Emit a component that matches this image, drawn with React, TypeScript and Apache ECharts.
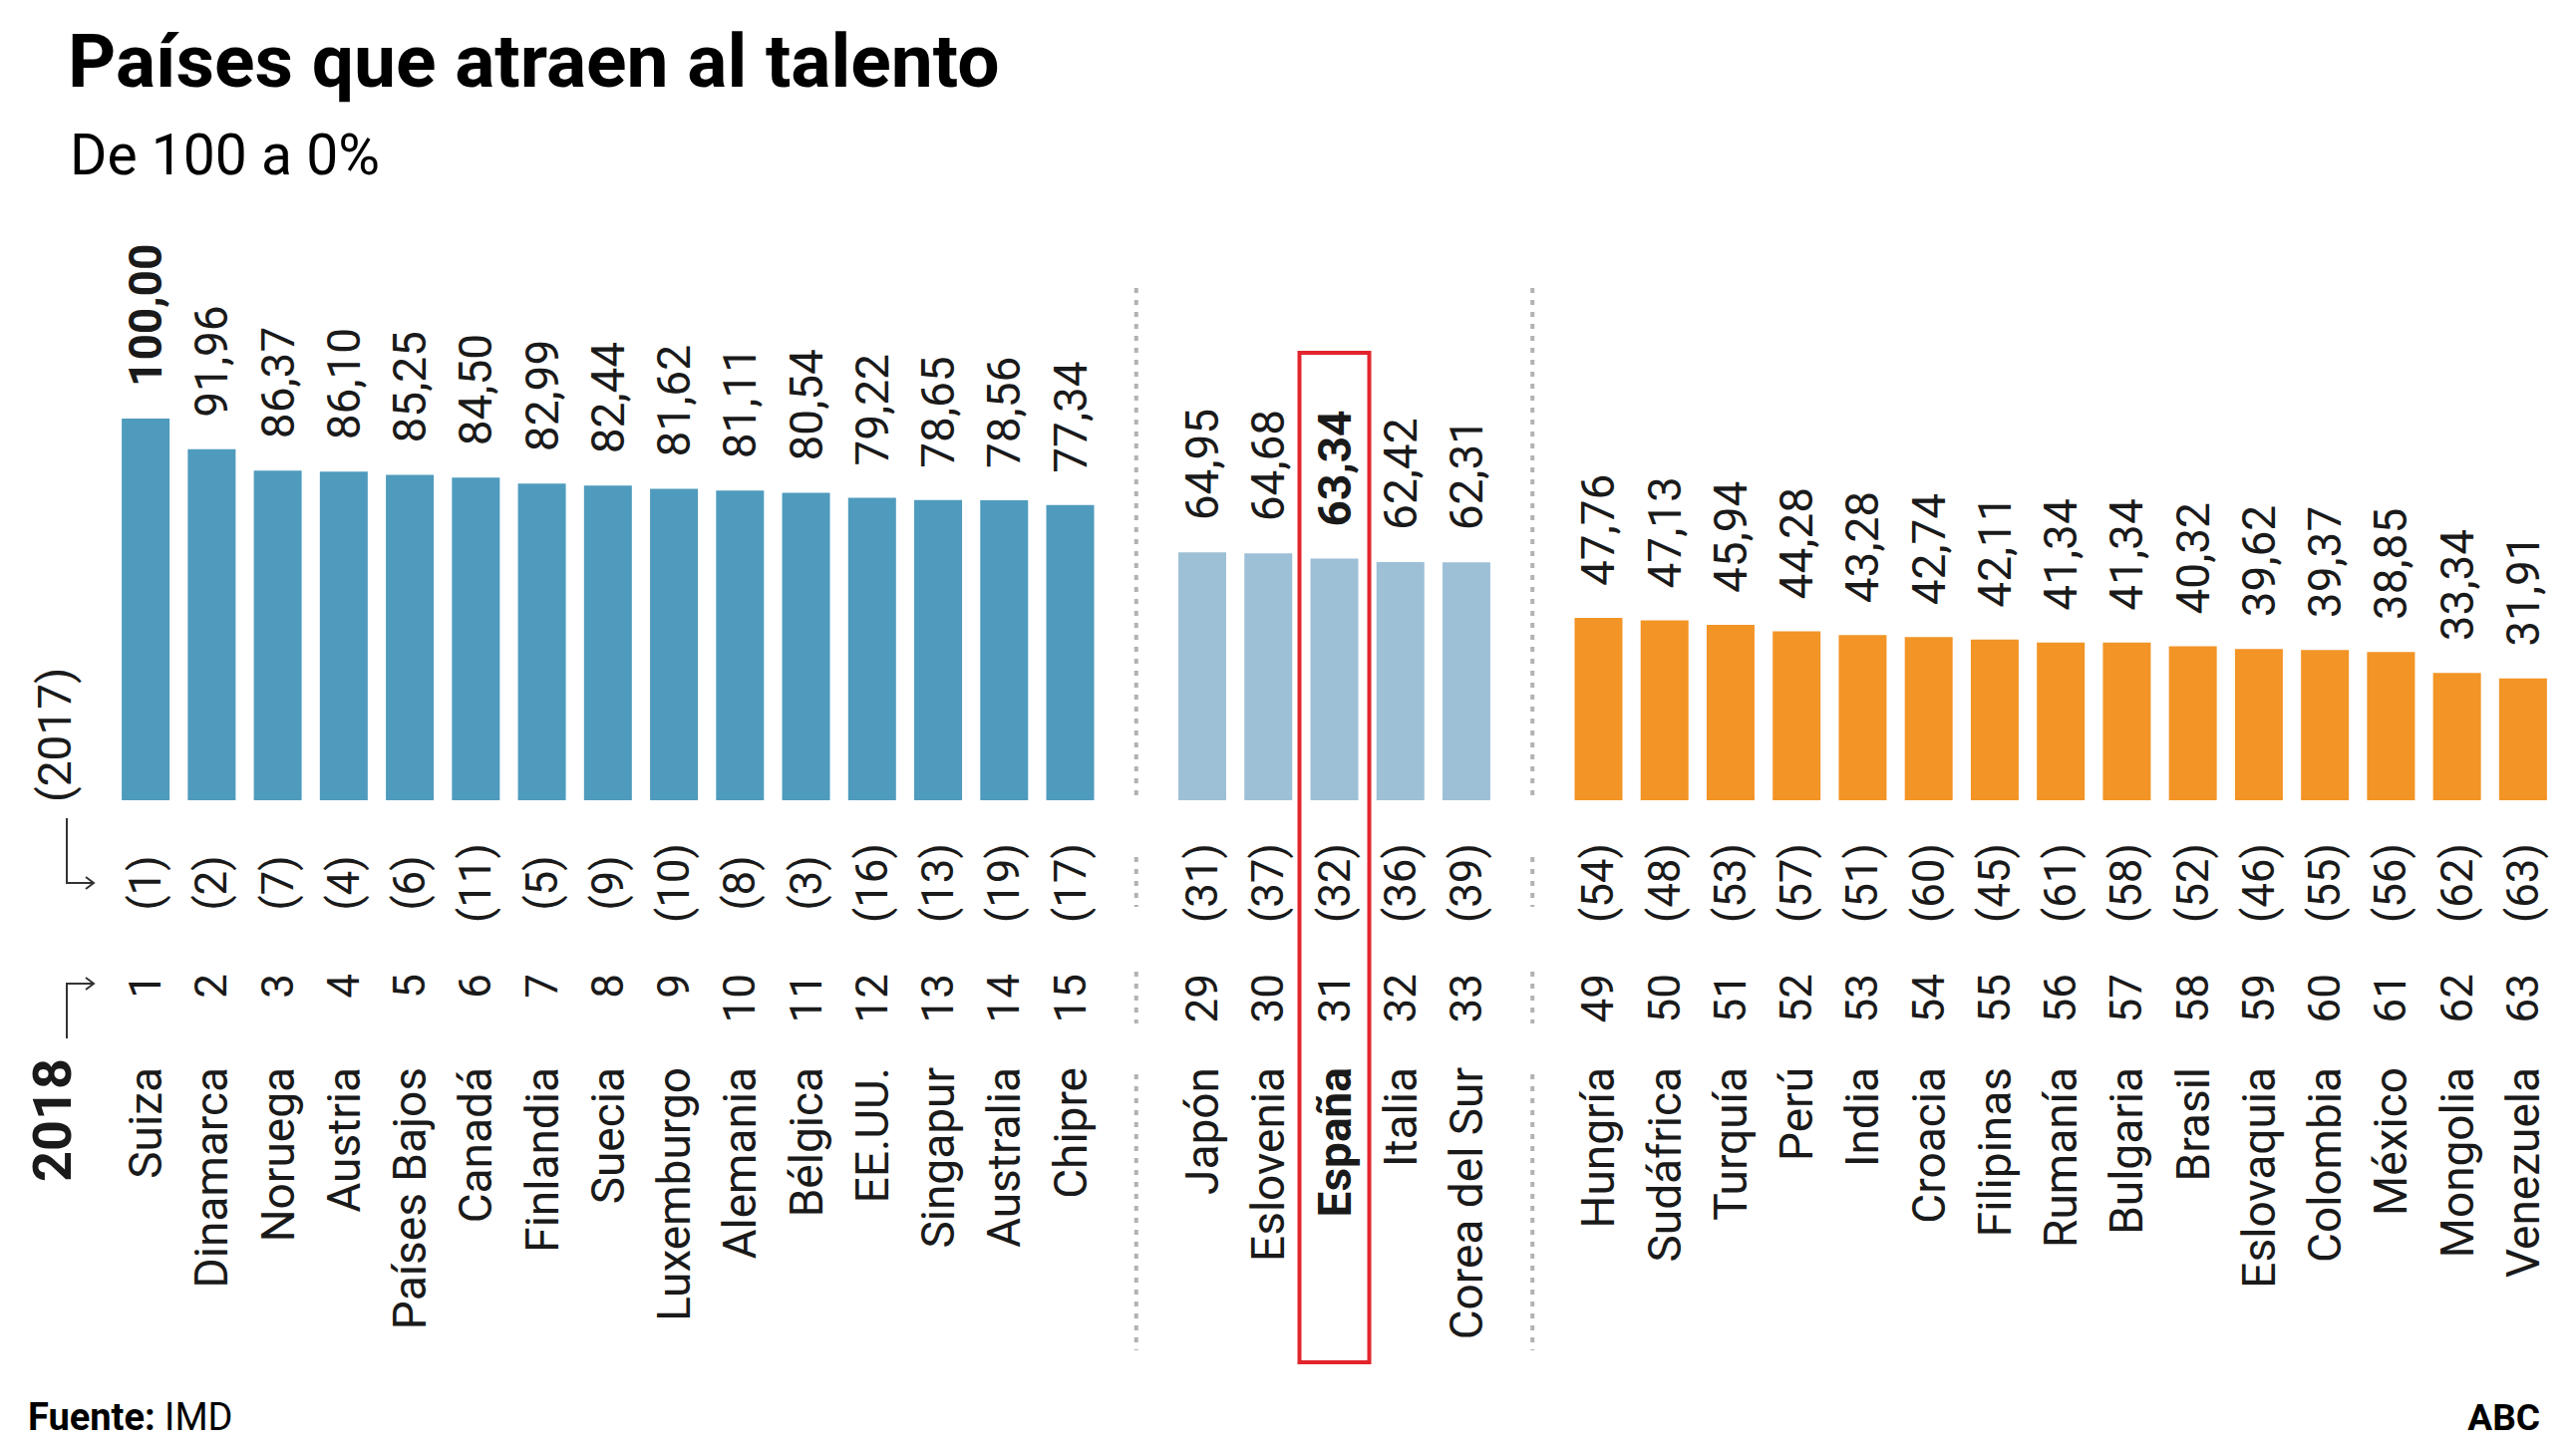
import React, { useEffect, useRef } from 'react';
import * as echarts from 'echarts';

// ---- Data ----
const groupA = ['Suiza', 'Dinamarca', 'Noruega', 'Austria', 'Países Bajos', 'Canadá', 'Finlandia', 'Suecia', 'Luxemburgo', 'Alemania', 'Bélgica', 'EE.UU.', 'Singapur', 'Australia', 'Chipre'];
const scoresA = [100.0, 91.96, 86.37, 86.1, 85.25, 84.5, 82.99, 82.44, 81.62, 81.11, 80.54, 79.22, 78.65, 78.56, 77.34];
const rank2017A = [1, 2, 7, 4, 6, 11, 5, 9, 10, 8, 3, 16, 13, 19, 17];
const rank2018A = [1, 2, 3, 4, 5, 6, 7, 8, 9, 10, 11, 12, 13, 14, 15];

const groupB = ['Japón', 'Eslovenia', 'España', 'Italia', 'Corea del Sur'];
const scoresB = [64.95, 64.68, 63.34, 62.42, 62.31];
const rank2017B = [31, 37, 32, 36, 39];
const rank2018B = [29, 30, 31, 32, 33];

const groupC = ['Hungría', 'Sudáfrica', 'Turquía', 'Perú', 'India', 'Croacia', 'Filipinas', 'Rumanía', 'Bulgaria', 'Brasil', 'Eslovaquia', 'Colombia', 'México', 'Mongolia', 'Venezuela'];
const scoresC = [47.76, 47.13, 45.94, 44.28, 43.28, 42.74, 42.11, 41.34, 41.34, 40.32, 39.62, 39.37, 38.85, 33.34, 31.91];
const rank2017C = [54, 48, 53, 57, 51, 60, 45, 61, 58, 52, 46, 55, 56, 62, 63];
const rank2018C = [49, 50, 51, 52, 53, 54, 55, 56, 57, 58, 59, 60, 61, 62, 63];

const boldValues = ['Suiza', 'España'];
const highlighted = 'España';

const BLUE = '#4F9BBD';
const LIGHT = '#9DC0D6';
const ORANGE = '#F29426';
const RED = '#E2252C';
const INK = '#1a1a1a';
const FONT = 'Roboto';

export default function App() {
  const ref = useRef<HTMLDivElement>(null);

  useEffect(() => {
    document.body.style.margin = '0';
    const chart = echarts.init(ref.current!, null, { renderer: 'svg' });

    const names: string[] = [...groupA, '', ...groupB, ' ', ...groupC];
    const r2017: string[] = [
      ...rank2017A.map((r) => `(${r})`), '',
      ...rank2017B.map((r) => `(${r})`), ' ',
      ...rank2017C.map((r) => `(${r})`),
    ];
    const r2018: string[] = [
      ...rank2018A.map(String), '',
      ...rank2018B.map(String), ' ',
      ...rank2018C.map(String),
    ];
    const mk = (n: string, v: number, color: string) => ({
      value: v,
      itemStyle: { color },
      label: { fontWeight: boldValues.includes(n) ? 'bold' : 'normal' },
    });
    const barData: any[] = [
      ...groupA.map((n, i) => mk(n, scoresA[i], BLUE)),
      null,
      ...groupB.map((n, i) => mk(n, scoresB[i], LIGHT)),
      null,
      ...groupC.map((n, i) => mk(n, scoresC[i], ORANGE)),
    ];

    const hiddenAxis = {
      axisLine: { show: false },
      axisTick: { show: false },
      splitLine: { show: false },
    };

    chart.setOption({
      animation: false,
      backgroundColor: '#ffffff',
      grid: { left: 113, right: 20, top: 420, bottom: 652, outerBoundsMode: 'none' },
      xAxis: [
        {
          type: 'category',
          data: names,
          ...hiddenAxis,
          axisLabel: {
            interval: 0,
            rotate: 90,
            margin: 268,
            fontFamily: FONT,
            fontSize: 46,
            color: INK,
            formatter: (v: string) => (v === highlighted ? `{b|${v}}` : v),
            rich: { b: { fontFamily: FONT, fontSize: 46, fontWeight: 'bold', color: INK } },
          },
        },
        {
          type: 'category',
          data: r2018,
          position: 'bottom',
          ...hiddenAxis,
          axisLabel: {
            interval: 0,
            rotate: 90,
            margin: 174,
            fontFamily: FONT,
            fontSize: 44,
            color: INK,
          },
        },
        {
          type: 'category',
          data: r2017,
          position: 'bottom',
          ...hiddenAxis,
          axisLabel: {
            interval: 0,
            rotate: 90,
            margin: 83,
            align: 'center',
            verticalAlign: 'middle',
            fontFamily: FONT,
            fontSize: 44,
            color: INK,
          },
        },
      ],
      yAxis: { type: 'value', min: 0, max: 100, show: false, splitLine: { show: false } },
      series: [
        {
          type: 'bar',
          xAxisIndex: 0,
          data: barData,
          barWidth: 48,
          label: {
            show: true,
            position: 'top',
            rotate: 90,
            align: 'left',
            verticalAlign: 'middle',
            distance: 32,
            fontFamily: FONT,
            fontSize: 46,
            color: INK,
            formatter: (p: any) => (p.value == null ? '' : Number(p.value).toFixed(2).replace('.', ',')),
          },
        },
      ],
    });

    const xOf = (i: number) => chart.convertToPixel({ xAxisIndex: 0 }, i) as number;
    const y0 = chart.convertToPixel({ yAxisIndex: 0 }, 0) as number;

    const dotted = (x: number, ya: number, yb: number) => ({
      type: 'line',
      shape: { x1: x, y1: ya, x2: x, y2: yb },
      style: { stroke: '#B2B2B2', lineWidth: 4, lineDash: [5, 7] },
      silent: true,
    });
    const sepIdx = [groupA.length, groupA.length + 1 + groupB.length];
    const segments = [[-514, -5], [57, 107], [172, 224], [275, 552]];
    const sepEls: any[] = [];
    sepIdx.forEach((i) => {
      const x = xOf(i);
      segments.forEach(([a, b]) => sepEls.push(dotted(x, y0 + a, y0 + b)));
    });

    const hiIdx = names.indexOf(highlighted);
    const hx = xOf(hiIdx);

    chart.setOption({
      graphic: [
        {
          type: 'text',
          style: { text: 'Países que atraen al talento', x: 68, y: 61, fontFamily: FONT, fontSize: 75, fontWeight: 'bold', fill: '#000', verticalAlign: 'middle' },
        },
        {
          type: 'text',
          style: { text: 'De 100 a 0%', x: 70, y: 155, fontFamily: FONT, fontSize: 57, fill: '#000', verticalAlign: 'middle' },
        },
        {
          type: 'text',
          style: {
            text: '{b|Fuente:} IMD', x: 28, y: 1422, fontFamily: FONT, fontSize: 38, fill: '#000', verticalAlign: 'middle',
            rich: { b: { fontFamily: FONT, fontSize: 38, fontWeight: 'bold', fill: '#000' } },
          },
        },
        {
          type: 'text',
          style: { text: 'ABC', x: 2548, y: 1422, align: 'right', fontFamily: FONT, fontSize: 37, fontWeight: 'bold', fill: '#000', verticalAlign: 'middle' },
        },
        {
          type: 'text',
          x: 55, y: y0 + 2, rotation: Math.PI / 2,
          style: { text: '(2017)', x: 0, y: 0, align: 'left', verticalAlign: 'middle', fontFamily: FONT, fontSize: 46, fill: INK },
        },
        {
          type: 'text',
          x: 52, y: 1124, rotation: Math.PI / 2,
          style: { text: '2018', x: 0, y: 0, align: 'center', verticalAlign: 'middle', fontFamily: FONT, fontSize: 54, fontWeight: 'bold', fill: INK },
        },
        {
          type: 'polyline',
          shape: { points: [[67, y0 + 18], [67, y0 + 83], [93, y0 + 83]] },
          style: { stroke: '#333', lineWidth: 2, fill: 'none' },
        },
        {
          type: 'polyline',
          shape: { points: [[86, y0 + 77], [94, y0 + 83], [86, y0 + 89]] },
          style: { stroke: '#333', lineWidth: 2, fill: 'none' },
        },
        {
          type: 'polyline',
          shape: { points: [[67, y0 + 239], [67, y0 + 184], [93, y0 + 184]] },
          style: { stroke: '#333', lineWidth: 2, fill: 'none' },
        },
        {
          type: 'polyline',
          shape: { points: [[86, y0 + 178], [94, y0 + 184], [86, y0 + 190]] },
          style: { stroke: '#333', lineWidth: 2, fill: 'none' },
        },
        ...sepEls,
        {
          type: 'rect',
          shape: { x: hx - 35, y: y0 - 449, width: 70, height: 1013 },
          style: { stroke: RED, lineWidth: 4, fill: 'none' },
          silent: true,
        },
      ],
    });

    return () => chart.dispose();
  }, []);

  return <div ref={ref} style={{ width: 2584, height: 1455 }} />;
}
